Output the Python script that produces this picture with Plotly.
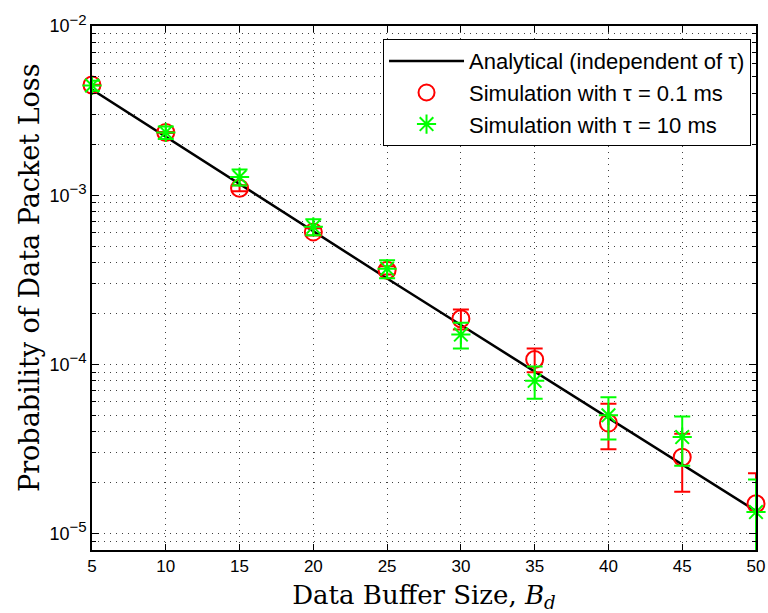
import numpy as np
import plotly.graph_objects as go

# ---------------- data ----------------
buffer_size = [5, 10, 15, 20, 25, 30, 35, 40, 45, 50]
analytical = [4.21e-3, 2.21e-3, 1.16e-3, 6.07e-4, 3.22e-4, 1.71e-4, 9.06e-5, 4.8e-5, 2.56e-5, 1.36e-5]

sim_tau01 = [4.48e-3, 2.35e-3, 1.10e-3, 6.07e-4, 3.60e-4, 1.86e-4, 1.07e-4, 4.5e-5, 2.83e-5, 1.50e-5]
sim_tau01_err = [2e-5, 1.5e-5, 4.5e-5, 3.0e-5, 2.0e-5, 2.5e-5, 1.7e-5, 1.35e-5, 1.06e-5, 0.77e-5]

sim_tau10 = [4.45e-3, 2.35e-3, 1.28e-3, 6.5e-4, 3.68e-4, 1.50e-4, 8.0e-5, 5.0e-5, 3.72e-5, 1.34e-5]
sim_tau10_err = [3e-4, 2e-4, 1.4e-4, 0.7e-4, 0.45e-4, 2.6e-5, 1.73e-5, 1.4e-5, 1.2e-5, 0.75e-5]

x_ticks = [5, 10, 15, 20, 25, 30, 35, 40, 45, 50]
y_major = [1e-5, 1e-4, 1e-3, 1e-2]
y_exponents = ["\u22125", "\u22124", "\u22123", "\u22122"]
y_major_text = ["10<sup><span style='font-size:15px'>%s</span></sup>" % e for e in y_exponents]
y_minor = [k * 10.0 ** e for e in range(-6, -2) for k in range(2, 10)]

labels = ["Analytical (independent of \u03c4)",
          "Simulation with \u03c4 = 0.1 ms",
          "Simulation with \u03c4 = 10 ms"]
x_title = "Data Buffer Size, <i>B</i><sub><i>d</i></sub>"
y_title = "Probability of Data Packet Loss"

RED = "#ff0000"
GREEN = "#00ff00"

fig = go.Figure()

fig.add_trace(go.Scatter(x=buffer_size, y=analytical, mode="lines",
                         line=dict(color="black", width=2.5), name=labels[0]))

# red error bars (clipped) + markers (unclipped)
fig.add_trace(go.Scatter(x=buffer_size, y=sim_tau01, mode="markers",
                         marker=dict(size=1, color="rgba(0,0,0,0)"),
                         error_y=dict(type="data", array=sim_tau01_err, color=RED, thickness=2, width=8),
                         showlegend=False, hoverinfo="skip"))
fig.add_trace(go.Scatter(x=buffer_size, y=sim_tau01, mode="markers", cliponaxis=False,
                         marker=dict(symbol="circle-open", size=17, color=RED, line=dict(color=RED, width=2)),
                         name=labels[1]))

# green error bars + markers
fig.add_trace(go.Scatter(x=buffer_size, y=sim_tau10, mode="markers",
                         marker=dict(size=1, color="rgba(0,0,0,0)"),
                         error_y=dict(type="data", array=sim_tau10_err, color=GREEN, thickness=2, width=8),
                         showlegend=False, hoverinfo="skip"))
fig.add_trace(go.Scatter(x=buffer_size, y=sim_tau10, mode="markers", cliponaxis=False,
                         marker=dict(symbol="asterisk-open", size=16, color=GREEN, line=dict(color=GREEN, width=2)),
                         name=labels[2]))

grid_style = dict(showgrid=True, gridcolor="rgba(0,0,0,0.75)", gridwidth=1, griddash="1px,5px")

fig.update_layout(
    width=768, height=613,
    margin=dict(l=92, r=12, t=26, b=63),
    paper_bgcolor="white", plot_bgcolor="white",
    font=dict(family="Liberation Sans, Arial, sans-serif", size=17, color="black"),
    legend=dict(x=0.9925, y=0.975, xanchor="right", yanchor="top",
                bgcolor="white", bordercolor="black", borderwidth=1,
                font=dict(family="Liberation Sans, Arial, sans-serif", size=22, color="black"),
                itemwidth=75, tracegroupgap=0),
    xaxis=dict(range=[5, 50], tickvals=x_ticks, ticks="inside", ticklen=6, tickwidth=1,
               tickcolor="black", mirror="allticks", showline=True, linecolor="black", linewidth=1.5,
               zeroline=False, automargin=False,
               tickfont=dict(size=17),
               title=dict(text=x_title, font=dict(family="DejaVu Serif, serif", size=26), standoff=11),
               **grid_style),
    yaxis=dict(type="log", range=[np.log10(8e-6), -2], tickvals=y_major, ticktext=y_major_text,
               ticks="inside", ticklen=7, tickwidth=1, tickcolor="black", mirror="allticks",
               showline=True, linecolor="black", linewidth=1.5, zeroline=False, automargin=False,
               tickfont=dict(size=18),
               minor=dict(tickvals=y_minor, ticks="inside", ticklen=4, tickcolor="black",
                          showgrid=True, gridcolor="rgba(0,0,0,0.75)", gridwidth=1, griddash="1px,5px"),
               **grid_style),
    annotations=[dict(text=y_title, textangle=-90, showarrow=False,
                      xref="paper", yref="paper", x=-0.0934, y=0.521,
                      xanchor="center", yanchor="middle",
                      font=dict(family="DejaVu Serif, serif", size=27, color="black"))],
)

fig.write_html("out.html")
